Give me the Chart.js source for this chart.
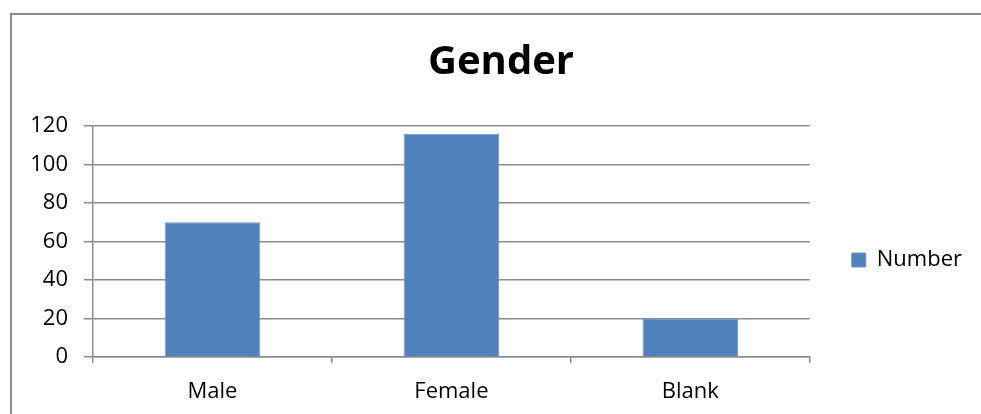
<!DOCTYPE html>
<html>
<head>
<meta charset="utf-8">
<script src="https://cdn.jsdelivr.net/npm/chart.js@4/dist/chart.umd.min.js"></script>
<style>
  html, body { margin: 0; padding: 0; background: #ffffff; }
  #wrap { position: relative; width: 981px; height: 414px; overflow: hidden; }
  #frame { position: absolute; left: 10px; top: 13px; width: 980px; height: 420px;
           border-left: 2px solid #8a8a8a; border-top: 2px solid #8a8a8a; box-sizing: border-box; }
  #c { position: absolute; left: 0; top: 0; }
</style>
</head>
<body>
<div id="wrap">
  <div id="frame"></div>
  <canvas id="c" width="981" height="414"></canvas>
</div>
<script>
const chartTitle = "Gender";
const categories = ["Male", "Female", "Blank"];
const seriesName = "Number";
const seriesValues = [70, 116, 20];
const yTicks = [0, 20, 40, 60, 80, 100, 120];

const FONT = "'Open Sans', 'DejaVu Sans', sans-serif";
const GRID = "#8c8c8c";

new Chart(document.getElementById("c"), {
  type: "bar",
  data: {
    labels: categories,
    datasets: [{
      label: seriesName,
      data: seriesValues,
      backgroundColor: "#4f81bd",
      borderColor: "#6f97cb",
      borderWidth: 1,
      barPercentage: 0.4,
      categoryPercentage: 1.0
    }]
  },
  options: {
    responsive: false,
    animation: false,
    devicePixelRatio: 1,
    layout: { padding: { left: 30, right: 9, top: 0, bottom: 0 } },
    plugins: {
      title: {
        display: true,
        text: chartTitle,
        color: "#000000",
        font: { family: FONT, size: 40, weight: "bold", lineHeight: 1.2 },
        padding: { top: 39, bottom: 39 }
      },
      legend: {
        display: true,
        position: "right",
        align: "center",
        fullSize: true,
        title: { display: true, text: " ", font: { size: 10, lineHeight: 1 }, padding: 48 },
        labels: {
          color: "#000000",
          font: { family: FONT, size: 22 },
          boxWidth: 14,
          boxHeight: 14,
          padding: 42
        }
      },
      tooltip: { enabled: false }
    },
    scales: {
      x: {
        afterFit: (s) => { s.height = 57; },
        grid: { display: true, drawOnChartArea: false, drawTicks: true, tickLength: 6, color: GRID, lineWidth: 1.5, offset: true },
        border: { display: true, color: GRID, width: 1.5 },
        ticks: { color: "#000000", font: { family: FONT, size: 22 }, padding: 16 }
      },
      y: {
        min: 0,
        max: 120,
        afterFit: (s) => { s.width = 63; },
        afterBuildTicks: (s) => { s.ticks = yTicks.map(v => ({ value: v })); },
        grid: { color: GRID, lineWidth: 1.5, tickLength: 9 },
        border: { display: true, color: GRID, width: 1.5 },
        ticks: { color: "#000000", font: { family: FONT, size: 22 }, padding: 16 }
      }
    }
  }
});
</script>
</body>
</html>
